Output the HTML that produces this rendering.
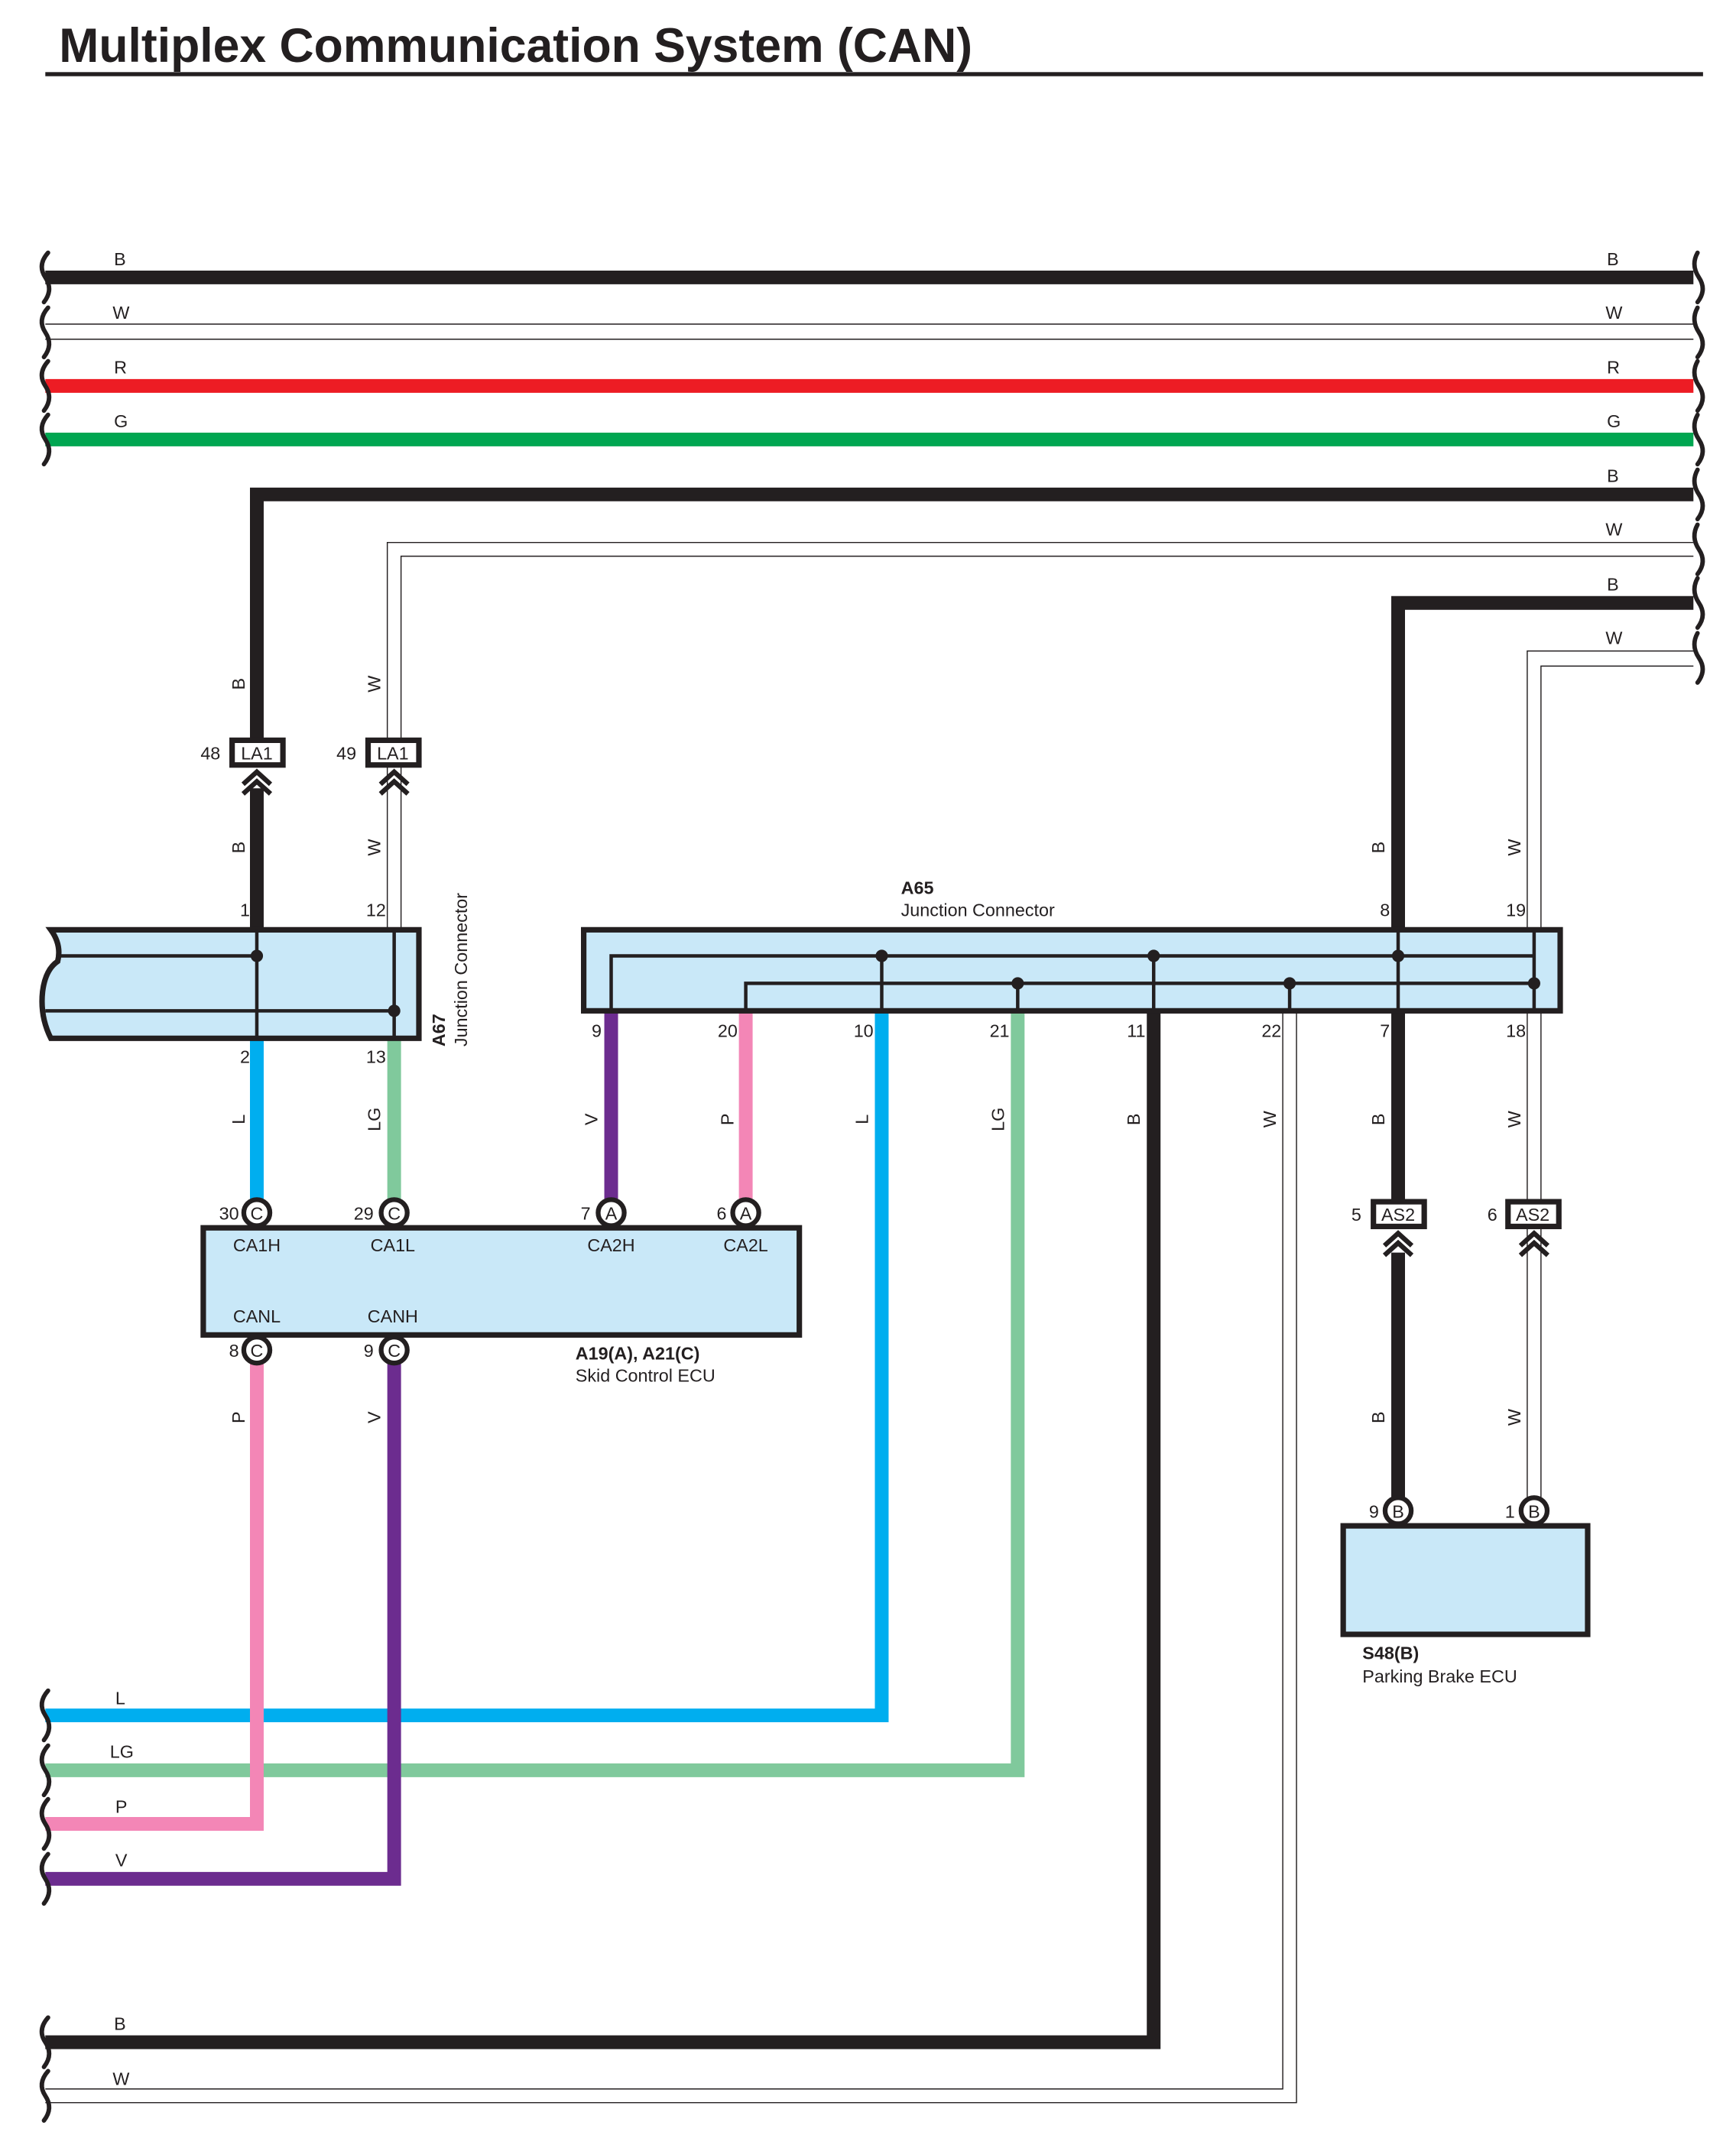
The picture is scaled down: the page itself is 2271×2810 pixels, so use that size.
<!DOCTYPE html>
<html><head><meta charset="utf-8"><style>
html,body{margin:0;padding:0;background:#fff;}
svg{display:block;}
text{font-family:"Liberation Sans",sans-serif;fill:#231f20;}
</style></head><body>
<svg width="2271" height="2810" viewBox="0 0 1264 1564" xmlns="http://www.w3.org/2000/svg">
<rect width="1264" height="1564" fill="#fff"/>
<text x="43" y="45" font-size="35" font-weight="bold" textLength="665" lengthAdjust="spacingAndGlyphs">Multiplex Communication System (CAN)</text>
<rect x="33" y="52.5" width="1207" height="3" fill="#231f20"/>

<g fill="none" stroke-linecap="butt" stroke-linejoin="miter">
<line x1="33" y1="202" x2="1233" y2="202" stroke="#231f20" stroke-width="10"/>
<line x1="33" y1="236" x2="1233" y2="236" stroke="#231f20" stroke-width="0.8"/>
<line x1="33" y1="247" x2="1233" y2="247" stroke="#231f20" stroke-width="0.8"/>
<line x1="33" y1="281" x2="1233" y2="281" stroke="#ed1c24" stroke-width="10"/>
<line x1="33" y1="320" x2="1233" y2="320" stroke="#00a651" stroke-width="10"/>

<polyline points="187,539 187,360 1233,360" stroke="#231f20" stroke-width="10"/>
<line x1="187" y1="574" x2="187" y2="676" stroke="#231f20" stroke-width="10"/>
<polyline points="282,676 282,395 1233,395" stroke="#231f20" stroke-width="0.8"/>
<polyline points="292,676 292,405 1233,405" stroke="#231f20" stroke-width="0.8"/>
<polyline points="1018,676 1018,439 1233,439" stroke="#231f20" stroke-width="10"/>
<polyline points="1112,676 1112,474 1233,474" stroke="#231f20" stroke-width="0.8"/>
<polyline points="1122,676 1122,485 1233,485" stroke="#231f20" stroke-width="0.8"/>

<line x1="187" y1="756" x2="187" y2="876" stroke="#00aeef" stroke-width="10"/>
<line x1="287" y1="756" x2="287" y2="876" stroke="#80c99c" stroke-width="10"/>
<line x1="445" y1="736" x2="445" y2="876" stroke="#6c2c8f" stroke-width="10"/>
<line x1="543" y1="736" x2="543" y2="876" stroke="#f386b6" stroke-width="10"/>
<polyline points="642,736 642,1249 33,1249" stroke="#00aeef" stroke-width="10"/>
<polyline points="741,736 741,1289 33,1289" stroke="#80c99c" stroke-width="10"/>
<polyline points="840,736 840,1487 33,1487" stroke="#231f20" stroke-width="10"/>
<polyline points="934,736 934,1521 33,1521" stroke="#231f20" stroke-width="0.8"/>
<polyline points="944,736 944,1531 33,1531" stroke="#231f20" stroke-width="0.8"/>
<line x1="1018" y1="736" x2="1018" y2="875" stroke="#231f20" stroke-width="10"/>
<line x1="1018" y1="912" x2="1018" y2="1093" stroke="#231f20" stroke-width="10"/>
<line x1="1112" y1="736" x2="1112" y2="1093" stroke="#231f20" stroke-width="0.8"/>
<line x1="1122" y1="736" x2="1122" y2="1093" stroke="#231f20" stroke-width="0.8"/>
<polyline points="187,990 187,1328 33,1328" stroke="#f386b6" stroke-width="10"/>
<polyline points="287,990 287,1368 33,1368" stroke="#6c2c8f" stroke-width="10"/>
</g>

<g fill="none" stroke="#231f20" stroke-width="3.2" stroke-linecap="round">
<path d="M35,184 q-8,9 -2,18 q6,9 -1,18"/><path d="M35,224 q-8,9 -2,18 q6,9 -1,18"/>
<path d="M35,263 q-8,9 -2,18 q6,9 -1,18"/><path d="M35,302 q-8,9 -2,18 q6,9 -1,18"/>
<path d="M1236,184 q-5,9 1,18 q6,9 -1,18"/><path d="M1236,224 q-5,9 1,18 q6,9 -1,18"/>
<path d="M1236,263 q-5,9 1,18 q6,9 -1,18"/><path d="M1236,302 q-5,9 1,18 q6,9 -1,18"/>
<path d="M1236,342 q-5,9 1,18 q6,9 -1,18"/><path d="M1236,382 q-5,9 1,18 q6,9 -1,18"/>
<path d="M1236,421 q-5,9 1,18 q6,9 -1,18"/><path d="M1236,461 q-5,9 1,18 q6,9 -1,18"/>
<path d="M35,1231 q-8,9 -2,18 q6,9 -1,18"/><path d="M35,1271 q-8,9 -2,18 q6,9 -1,18"/>
<path d="M35,1310 q-8,9 -2,18 q6,9 -1,18"/><path d="M35,1350 q-8,9 -2,18 q6,9 -1,18"/>
<path d="M35,1469 q-8,9 -2,18 q6,9 -1,18"/><path d="M35,1508 q-8,9 -2,18 q6,9 -1,18"/>
</g>

<g>
<rect x="169" y="539" width="37" height="18" fill="#fff" stroke="#231f20" stroke-width="4"/>
<text x="187" y="553" font-size="13" text-anchor="middle">LA1</text>
<text x="146" y="553" font-size="13">48</text>
<rect x="268" y="539" width="37" height="18" fill="#fff" stroke="#231f20" stroke-width="4"/>
<text x="286" y="553" font-size="13" text-anchor="middle">LA1</text>
<text x="245" y="553" font-size="13">49</text>
<rect x="1000" y="875" width="37" height="18" fill="#fff" stroke="#231f20" stroke-width="4"/>
<text x="1018" y="889" font-size="13" text-anchor="middle">AS2</text>
<text x="984" y="889" font-size="13">5</text>
<rect x="1098" y="875" width="37" height="18" fill="#fff" stroke="#231f20" stroke-width="4"/>
<text x="1116" y="889" font-size="13" text-anchor="middle">AS2</text>
<text x="1083" y="889" font-size="13">6</text>
</g>
<g fill="none" stroke="#231f20" stroke-width="3.5">
<polyline points="177,571 187,562 197,571"/><polyline points="177,578 187,569 197,578"/>
<polyline points="277,571 287,562 297,571"/><polyline points="277,578 287,569 297,578"/>
<polyline points="1008,907 1018,898 1028,907"/><polyline points="1008,914 1018,905 1028,914"/>
<polyline points="1107,907 1117,898 1127,907"/><polyline points="1107,914 1117,905 1127,914"/>
</g>

<path d="M37,677 L305,677 L305,756 L37,756 Q29,740 31,722 Q33,706 42,700 Q45,688 37,677 Z" fill="#c9e8f8" stroke="#231f20" stroke-width="4"/>
<g stroke="#231f20" stroke-width="2.5" fill="none">
<line x1="43" y1="696" x2="187" y2="696"/>
<line x1="33" y1="736" x2="287" y2="736"/>
<line x1="187" y1="677" x2="187" y2="756"/>
<line x1="287" y1="677" x2="287" y2="756"/>
</g>
<circle cx="187" cy="696" r="4.5" fill="#231f20"/>
<circle cx="287" cy="736" r="4.5" fill="#231f20"/>
<text transform="translate(324,762) rotate(-90)" font-size="13" font-weight="bold">A67</text>
<text transform="translate(340,762) rotate(-90)" font-size="13">Junction Connector</text>

<rect x="425" y="677" width="711" height="59" fill="#c9e8f8" stroke="#231f20" stroke-width="4"/>
<g stroke="#231f20" stroke-width="2.5" fill="none">
<polyline points="445,736 445,696 1117,696"/>
<polyline points="543,736 543,716 1117,716"/>
<line x1="642" y1="696" x2="642" y2="736"/>
<line x1="741" y1="716" x2="741" y2="736"/>
<line x1="840" y1="696" x2="840" y2="736"/>
<line x1="939" y1="716" x2="939" y2="736"/>
<line x1="1018" y1="677" x2="1018" y2="736"/>
<line x1="1117" y1="677" x2="1117" y2="736"/>
</g>
<g fill="#231f20">
<circle cx="642" cy="696" r="4.5"/><circle cx="840" cy="696" r="4.5"/><circle cx="1018" cy="696" r="4.5"/>
<circle cx="741" cy="716" r="4.5"/><circle cx="939" cy="716" r="4.5"/><circle cx="1117" cy="716" r="4.5"/>
</g>
<text x="656" y="651" font-size="13" font-weight="bold">A65</text>
<text x="656" y="667" font-size="13">Junction Connector</text>

<rect x="148" y="894" width="434" height="78" fill="#c9e8f8" stroke="#231f20" stroke-width="4"/>
<g fill="#fff" stroke="#231f20" stroke-width="3.5">
<circle cx="187" cy="883" r="9.5"/><circle cx="287" cy="883" r="9.5"/>
<circle cx="445" cy="883" r="9.5"/><circle cx="543" cy="883" r="9.5"/>
<circle cx="187" cy="983" r="9.5"/><circle cx="287" cy="983" r="9.5"/>
<circle cx="1018" cy="1100" r="9.5"/><circle cx="1117" cy="1100" r="9.5"/>
</g>
<g font-size="13" text-anchor="middle">
<text x="187" y="888">C</text><text x="287" y="888">C</text>
<text x="445" y="888">A</text><text x="543" y="888">A</text>
<text x="187" y="988">C</text><text x="287" y="988">C</text>
<text x="1018" y="1105">B</text><text x="1117" y="1105">B</text>
</g>
<g font-size="13" text-anchor="middle">
<text x="187" y="911">CA1H</text><text x="286" y="911">CA1L</text>
<text x="445" y="911">CA2H</text><text x="543" y="911">CA2L</text>
<text x="187" y="963">CANL</text><text x="286" y="963">CANH</text>
<text x="1018" y="1128">CA2H</text><text x="1117" y="1128">CA2L</text>
</g>
<g font-size="13" text-anchor="end">
<text x="174" y="888">30</text><text x="272" y="888">29</text>
<text x="430" y="888">7</text><text x="529" y="888">6</text>
<text x="174" y="988">8</text><text x="272" y="988">9</text>
<text x="1004" y="1105">9</text><text x="1103" y="1105">1</text>
<text x="182" y="667">1</text><text x="281" y="667">12</text>
<text x="182" y="774">2</text><text x="281" y="774">13</text>
<text x="438" y="755">9</text><text x="537" y="755">20</text>
<text x="636" y="755">10</text><text x="735" y="755">21</text>
<text x="834" y="755">11</text><text x="933" y="755">22</text>
<text x="1012" y="755">7</text><text x="1111" y="755">18</text>
<text x="1012" y="667">8</text><text x="1111" y="667">19</text>
</g>
<text x="419" y="990" font-size="13" font-weight="bold">A19(A), A21(C)</text>
<text x="419" y="1006" font-size="13">Skid Control ECU</text>

<rect x="978" y="1111" width="178" height="79" fill="#c9e8f8" stroke="#231f20" stroke-width="4"/>
<text x="992" y="1208" font-size="13" font-weight="bold">S48(B)</text>
<text x="992" y="1225" font-size="13">Parking Brake ECU</text>

<g font-size="13">
<text x="83" y="193">B</text><text x="82" y="232">W</text><text x="83" y="272">R</text><text x="83" y="311">G</text>
<text x="1170" y="193">B</text><text x="1169" y="232">W</text><text x="1170" y="272">R</text><text x="1170" y="311">G</text>
<text x="1170" y="351">B</text><text x="1169" y="390">W</text><text x="1170" y="430">B</text><text x="1169" y="469">W</text>
<text x="84" y="1241">L</text><text x="80" y="1280">LG</text><text x="84" y="1320">P</text><text x="84" y="1359">V</text>
<text x="83" y="1478">B</text><text x="82" y="1518">W</text>
</g>
<g font-size="13" text-anchor="middle">
<text transform="translate(178,498) rotate(-90)">B</text>
<text transform="translate(277,498) rotate(-90)">W</text>
<text transform="translate(178,617) rotate(-90)">B</text>
<text transform="translate(277,617) rotate(-90)">W</text>
<text transform="translate(1008,617) rotate(-90)">B</text>
<text transform="translate(1107,617) rotate(-90)">W</text>
<text transform="translate(178,815) rotate(-90)">L</text>
<text transform="translate(277,815) rotate(-90)">LG</text>
<text transform="translate(435,815) rotate(-90)">V</text>
<text transform="translate(534,815) rotate(-90)">P</text>
<text transform="translate(632,815) rotate(-90)">L</text>
<text transform="translate(731,815) rotate(-90)">LG</text>
<text transform="translate(830,815) rotate(-90)">B</text>
<text transform="translate(929,815) rotate(-90)">W</text>
<text transform="translate(1008,815) rotate(-90)">B</text>
<text transform="translate(1107,815) rotate(-90)">W</text>
<text transform="translate(178,1032) rotate(-90)">P</text>
<text transform="translate(277,1032) rotate(-90)">V</text>
<text transform="translate(1008,1032) rotate(-90)">B</text>
<text transform="translate(1107,1032) rotate(-90)">W</text>
</g>
</svg>
</body></html>
